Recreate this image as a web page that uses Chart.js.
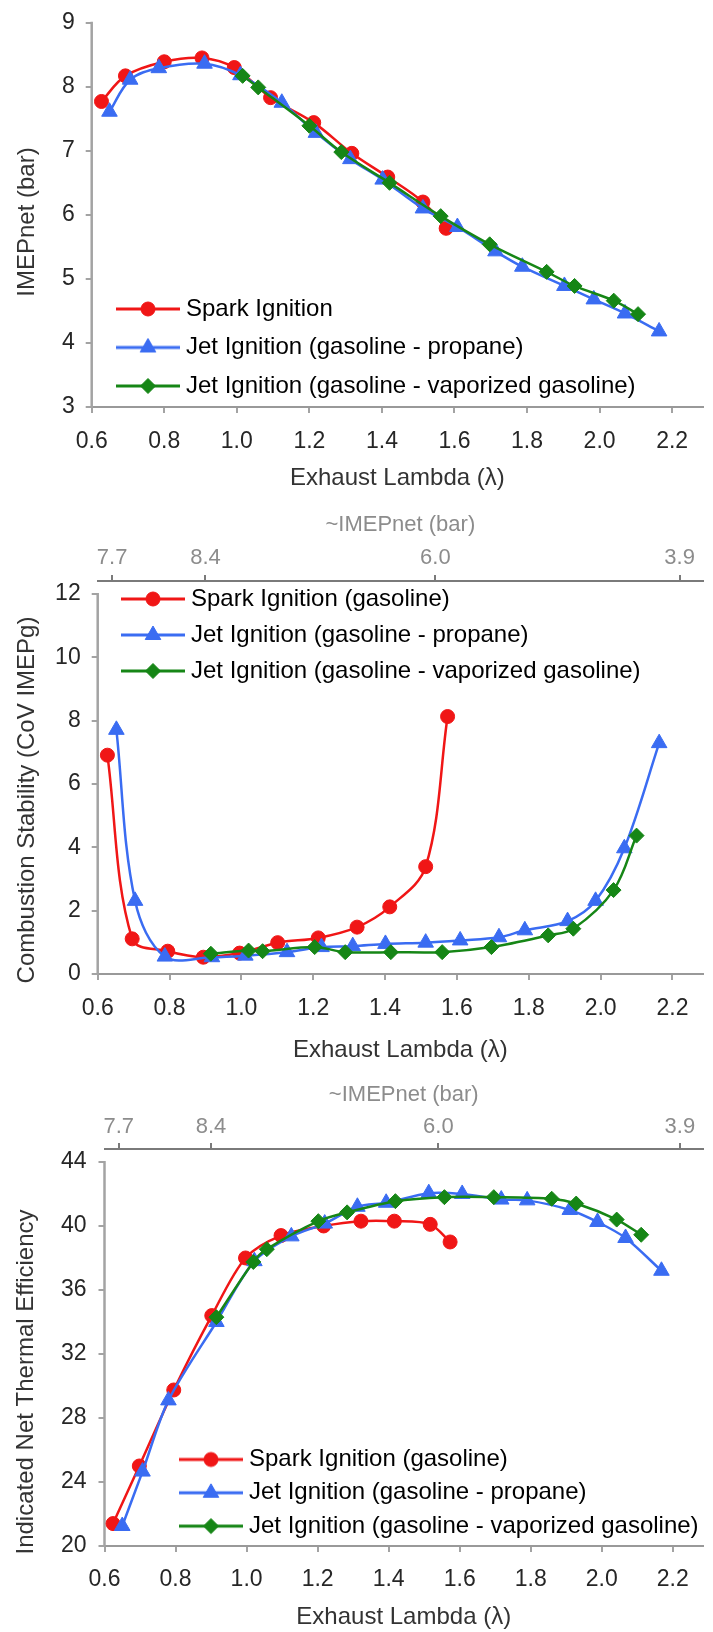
<!DOCTYPE html>
<html>
<head>
<meta charset="utf-8">
<script src="https://cdn.jsdelivr.net/npm/chart.js@4.4.1/dist/chart.umd.min.js"></script>
<style>
  html, body { margin: 0; padding: 0; background: #fff; }
  body { width: 713px; height: 1632px; position: relative; overflow: hidden; }
  canvas { position: absolute; left: 0; }
</style>
</head>
<body>
<canvas id="imep" width="713" height="500" style="top:0"></canvas>
<canvas id="cov" width="713" height="565" style="top:500px"></canvas>
<canvas id="eff" width="713" height="567" style="top:1065px"></canvas>
<script>
// axis ticks
const lambdaTicks = [0.6, 0.8, 1.0, 1.2, 1.4, 1.6, 1.8, 2.0, 2.2];
const topTickLambda = [0.64, 0.90, 1.54, 2.22];
const topTickLabels = ['7.7', '8.4', '6.0', '3.9'];
const imepTicks = [3, 4, 5, 6, 7, 8, 9];
const covTicks = [0, 2, 4, 6, 8, 10, 12];
const effTicks = [20, 24, 28, 32, 36, 40, 44];

// series names
const namesTop = ['Spark Ignition', 'Jet Ignition (gasoline - propane)', 'Jet Ignition (gasoline - vaporized gasoline)'];
const names = ['Spark Ignition (gasoline)', 'Jet Ignition (gasoline - propane)', 'Jet Ignition (gasoline - vaporized gasoline)'];

// IMEPnet (bar) vs exhaust lambda
const imepSparkLambda = [0.627, 0.693, 0.800, 0.904, 0.993, 1.093, 1.212, 1.317, 1.416, 1.513, 1.577];
const imepSpark = [7.77, 8.17, 8.39, 8.45, 8.30, 7.83, 7.44, 6.96, 6.59, 6.20, 5.79];
const imepPropaneLambda = [0.649, 0.706, 0.785, 0.911, 1.010, 1.124, 1.218, 1.313, 1.402, 1.513, 1.608, 1.713, 1.787, 1.903, 1.984, 2.070, 2.164];
const imepPropane = [7.61, 8.11, 8.29, 8.36, 8.18, 7.75, 7.28, 6.87, 6.55, 6.10, 5.81, 5.43, 5.19, 4.89, 4.68, 4.46, 4.18];
const imepVaporLambda = [1.016, 1.059, 1.200, 1.288, 1.421, 1.562, 1.697, 1.854, 1.931, 2.039, 2.106];
const imepVapor = [8.17, 7.99, 7.39, 6.98, 6.50, 5.98, 5.54, 5.11, 4.89, 4.66, 4.45];

// CoV of IMEPg (%)
const covSparkLambda = [0.627, 0.696, 0.795, 0.894, 0.995, 1.101, 1.214, 1.322, 1.413, 1.513, 1.574];
const covSpark = [6.91, 1.11, 0.72, 0.53, 0.66, 0.99, 1.14, 1.48, 2.12, 3.39, 8.13];
const covPropaneLambda = [0.652, 0.704, 0.787, 0.918, 1.011, 1.127, 1.223, 1.310, 1.401, 1.513, 1.609, 1.717, 1.789, 1.908, 1.986, 2.066, 2.163];
const covPropane = [7.71, 2.31, 0.55, 0.53, 0.58, 0.69, 0.85, 0.88, 0.95, 0.99, 1.06, 1.16, 1.38, 1.67, 2.31, 3.97, 7.29];
const covVaporLambda = [0.915, 1.020, 1.059, 1.204, 1.289, 1.416, 1.559, 1.696, 1.854, 1.924, 2.036, 2.100];
const covVapor = [0.64, 0.74, 0.72, 0.85, 0.69, 0.69, 0.69, 0.85, 1.22, 1.43, 2.65, 4.37];

// indicated net thermal efficiency (%)
const effSparkLambda = [0.624, 0.698, 0.795, 0.902, 0.997, 1.097, 1.217, 1.322, 1.416, 1.517, 1.573];
const effSpark = [21.4, 25.0, 29.75, 34.4, 38.0, 39.4, 40.0, 40.3, 40.3, 40.1, 39.0];
const effPropaneLambda = [0.650, 0.707, 0.780, 0.915, 1.022, 1.126, 1.220, 1.312, 1.393, 1.513, 1.607, 1.717, 1.790, 1.910, 1.988, 2.067, 2.168];
const effPropane = [21.25, 24.65, 29.1, 34.0, 37.8, 39.35, 40.15, 41.2, 41.45, 42.05, 42.0, 41.65, 41.6, 41.0, 40.25, 39.25, 37.2];
const effVaporLambda = [0.915, 1.019, 1.057, 1.202, 1.283, 1.419, 1.557, 1.696, 1.859, 1.928, 2.042, 2.111];
const effVapor = [34.3, 37.75, 38.55, 40.3, 40.85, 41.55, 41.8, 41.8, 41.7, 41.4, 40.4, 39.45];

const FONT = "'Liberation Sans', Arial, sans-serif";
const INK = '#262626';
const GREY = '#8c8c8c';
const AXIS = '#a3a3a3';

const seriesStyle = [
  { color: '#f01616', pointStyle: 'circle', radius: 7, order: 2 },
  { color: '#3a6cf2', pointStyle: 'triangle', radius: 9, order: 1 },
  { color: '#168616', pointStyle: 'rectRot', radius: 7.5, order: 0 },
];

// line + marker picture used as the legend symbol
function swatch(st) {
  const c = document.createElement('canvas');
  c.width = 64; c.height = 20;
  const g = c.getContext('2d');
  g.strokeStyle = st.color; g.fillStyle = st.color; g.lineWidth = 3;
  g.beginPath(); g.moveTo(0, 10); g.lineTo(64, 10); g.stroke();
  g.lineWidth = 1;
  Chart.helpers.drawPoint(g, { pointStyle: st.pointStyle, radius: st.radius, rotation: 0, borderWidth: 1 }, 32, 10);
  return c;
}

// move the chartArea legend to a given spot
const legendPlace = {
  id: 'legendPlace',
  afterLayout(chart, args, opts) {
    const lg = chart.legend;
    if (!lg) return;
    const pad = lg.options.labels.padding;
    const w = lg.width, h = lg.height;
    lg.left = opts.x - pad; lg.top = opts.y - pad;
    lg.right = lg.left + w; lg.bottom = lg.top + h;
  }
};

// left axis line (only up to the last tick) and the rotated y title
const axisDecor = {
  id: 'axisDecor',
  beforeDatasetsDraw(chart) {
    const { ctx, chartArea } = chart;
    const y = chart.scales.y;
    const t = y.ticks;
    ctx.save();
    ctx.strokeStyle = AXIS;
    ctx.lineWidth = 2.5;
    ctx.beginPath();
    ctx.moveTo(chartArea.left, y.getPixelForValue(t[0].value) + 1);
    ctx.lineTo(chartArea.left, y.getPixelForValue(t[t.length - 1].value) - 1);
    ctx.stroke();
    ctx.restore();
  },
  afterDraw(chart, args, opts) {
    const ctx = chart.ctx;
    ctx.save();
    ctx.translate(opts.x, opts.y);
    ctx.rotate(-Math.PI / 2);
    ctx.font = '24px ' + FONT;
    ctx.fillStyle = '#333';
    ctx.textAlign = 'center';
    ctx.textBaseline = 'middle';
    ctx.fillText(opts.text, 0, 0);
    ctx.restore();
  }
};

function buildChart(id, p) {
  const datasets = p.values.map((vals, i) => {
    const st = seriesStyle[i];
    return {
      label: p.names[i],
      data: p.lambdas[i].map((x, k) => ({ x: x, y: vals[k] })),
      borderColor: st.color,
      backgroundColor: st.color,
      borderWidth: 2.5,
      tension: p.tension,
      pointStyle: st.pointStyle,
      pointRadius: st.radius,
      pointBorderWidth: 1,
      pointBackgroundColor: st.color,
      pointBorderColor: st.color,
      order: st.order
    };
  });

  const scales = {
    x: {
      type: 'linear', position: 'bottom', min: 0.6, max: 2.285,
      afterBuildTicks: s => { s.ticks = lambdaTicks.map(v => ({ value: v })); },
      afterFit: s => { s.height = p.xHeight; s.paddingLeft = 0; s.paddingRight = 0; },
      ticks: { callback: v => v.toFixed(1), color: INK, font: { family: FONT, size: 23 }, padding: p.xPad, maxRotation: 0, autoSkip: false },
      grid: { drawOnChartArea: false, tickLength: 6, color: AXIS, lineWidth: 2 },
      border: { color: '#999', width: 2 },
      title: { display: true, text: 'Exhaust Lambda (λ)', color: '#333', font: { family: FONT, size: 24 }, padding: { top: 0, bottom: p.xTitlePad } }
    },
    y: {
      type: 'linear', min: p.yMin, max: p.yMax,
      afterBuildTicks: s => { s.ticks = p.yTicks.map(v => ({ value: v })); },
      afterFit: s => { s.width = p.yWidth; s.paddingTop = 0; s.paddingBottom = 0; },
      ticks: { color: INK, font: { family: FONT, size: 23 }, padding: p.yPad, autoSkip: false },
      grid: { drawOnChartArea: false, tickLength: 6, color: AXIS, lineWidth: 2 },
      border: { display: false }
    }
  };

  if (p.topHeight) {
    scales.x2 = {
      type: 'linear', position: 'top', min: 0.6, max: 2.285,
      afterBuildTicks: s => { s.ticks = topTickLambda.map(v => ({ value: v })); },
      afterFit: s => { s.height = p.topHeight; s.paddingLeft = 0; s.paddingRight = 0; },
      ticks: { callback: (v, i) => topTickLabels[i], color: GREY, font: { family: FONT, size: 22 }, padding: p.topPad, maxRotation: 0, autoSkip: false },
      grid: { drawOnChartArea: false, tickLength: 6, color: '#7a7a7a', lineWidth: 2 },
      border: { color: '#7a7a7a', width: 2 },
      title: { display: true, text: '~IMEPnet (bar)', color: GREY, font: { family: FONT, size: 22 }, padding: { top: p.topTitlePad, bottom: 0 } }
    };
  }

  return new Chart(document.getElementById(id), {
    type: 'line',
    data: { datasets: datasets },
    options: {
      responsive: false,
      animation: false,
      events: [],
      layout: { padding: { top: p.padTop, left: 0, right: 0, bottom: 0 } },
      scales: scales,
      plugins: {
        tooltip: { enabled: false },
        legend: {
          position: 'chartArea',
          align: 'start',
          labels: {
            usePointStyle: true,
            pointStyleWidth: 52,
            padding: p.legendPad,
            color: INK,
            font: { family: FONT, size: 24 },
            generateLabels: chart => chart.data.datasets.map((ds, i) => ({
              text: ds.label,
              pointStyle: swatch(seriesStyle[i]),
              fillStyle: seriesStyle[i].color,
              strokeStyle: seriesStyle[i].color,
              lineWidth: 0,
              hidden: false,
              datasetIndex: i
            }))
          }
        },
        legendPlace: { x: p.legendX, y: p.legendY },
        axisDecor: { text: p.yTitle, x: p.yTitleX, y: p.yTitleY }
      }
    },
    plugins: [legendPlace, axisDecor]
  });
}

buildChart('imep', {
  names: namesTop,
  lambdas: [imepSparkLambda, imepPropaneLambda, imepVaporLambda],
  values: [imepSpark, imepPropane, imepVapor],
  tension: 0.35,
  yTicks: imepTicks, yMin: 3, yMax: 9,
  yTitle: 'IMEPnet (bar)', yTitleX: 27, yTitleY: 222,
  padTop: 22.7, yWidth: 91.7, yPad: 11,
  xHeight: 93, xPad: 15, xTitlePad: 7.6,
  legendPad: 14.5, legendX: 122, legendY: 297
});

buildChart('cov', {
  names: names,
  lambdas: [covSparkLambda, covPropaneLambda, covVaporLambda],
  values: [covSpark, covPropane, covVapor],
  tension: 0.35,
  yTicks: covTicks, yMin: 0, yMax: 12.41,
  yTitle: 'Combustion Stability (CoV IMEPg)', yTitleX: 27, yTitleY: 300,
  padTop: 0, yWidth: 97.7, yPad: 11,
  xHeight: 91, xPad: 15, xTitlePad: 0.6,
  topHeight: 81, topPad: 3.8, topTitlePad: 11.8,
  legendPad: 12, legendX: 127, legendY: 87
});

buildChart('eff', {
  names: names,
  lambdas: [effSparkLambda, effPropaneLambda, effVaporLambda],
  values: [effSpark, effPropane, effVapor],
  tension: 0.3,
  yTicks: effTicks, yMin: 20, yMax: 44.81,
  yTitle: 'Indicated Net Thermal Efficiency', yTitleX: 26, yTitleY: 317,
  padTop: 0, yWidth: 104.5, yPad: 12,
  xHeight: 86, xPad: 14, xTitlePad: 0,
  topHeight: 84, topPad: 2.8, topTitlePad: 16.8,
  legendPad: 9.3, legendX: 185, legendY: 382.5
});
</script>
</body>
</html>
